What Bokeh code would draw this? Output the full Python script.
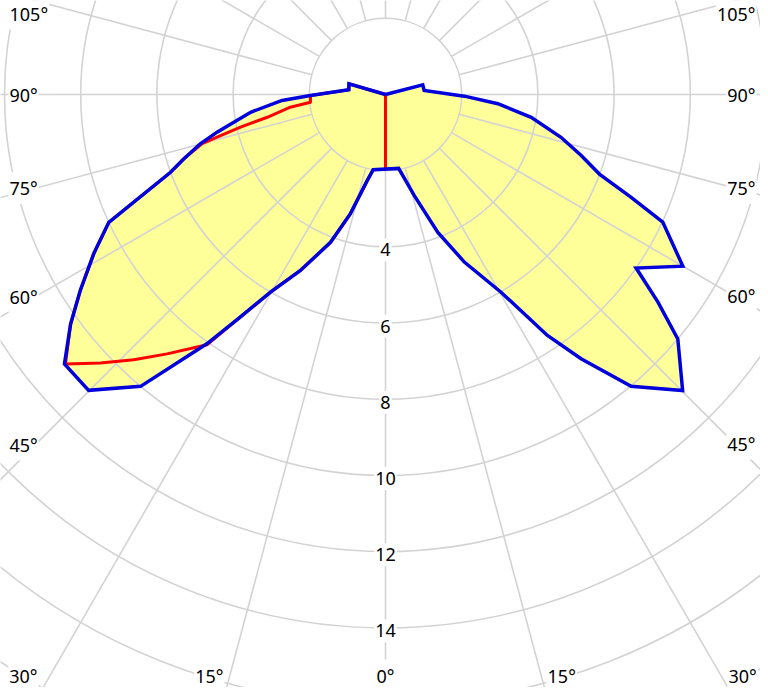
import numpy as np
from bokeh.plotting import figure
from bokeh.models import Range1d
from bokeh.embed import file_html
from bokeh.resources import INLINE
from bokeh.core.properties import value

# ---------------- data (angle from nadir in degrees, signed: + right, - left; intensity) ----------------
blue_angle = [180, 104.6, 95.9, 88.8, 85.3, 81.1, 76.3, 72.7, 69.6, 67.3, 65.3, 60.0, 55.3, 52.7,
              50.1, 45.1, 40.1, 36.5, 33.9, 30.3, 25.2, 20.8, 15.9, 10.1,
              -9.3, -12.0, -16.4, -20.4, -25.8, -30.2, -33.1, -35.6, -40.0, -45.1, -50.0,
              -53.9, -57.3, -61.4, -65.2, -70.1, -72.3, -75.1, -77.4, -82.5, -86.7, -89.2,
              -97.3, -106.3, -180]
blue_r = [0, 1.01, 1.02, 2.07, 2.96, 3.87, 4.74, 5.38, 5.99, 6.98, 8.01, 9.01, 8.00, 8.99,
          10.0, 11.01, 10.01, 8.63, 7.62, 6.01, 4.86, 3.87, 2.76, 1.97,
          2.0, 2.31, 3.26, 4.14, 5.13, 6.0, 6.97, 8.04, 10.0, 11.0, 11.0,
          10.23, 9.52, 8.72, 8.0, 6.0, 5.56, 5.03, 4.53, 3.57, 2.72, 1.97,
          0.97, 1.0, 0]

red_angle = [0, -9.3, -12.0, -16.4, -20.4, -25.8, -30.2, -33.1, -35.5, -40.1, -43.5, -46.7, -49.9,
             -53.9, -57.3, -61.4, -65.2, -70.1, -72.3, -75.0, -75.8, -77.3, -79.1, -82.4, -84.1,
             -89.2, -97.3, -106.3, -180]
red_r = [1.96, 2.0, 2.31, 3.26, 4.14, 5.13, 6.0, 6.97, 8.07, 8.9, 9.6, 10.28, 10.98,
         10.23, 9.52, 8.72, 8.0, 6.0, 5.56, 4.98, 4.56, 3.90, 3.16, 2.52, 1.98,
         1.97, 0.97, 1.0, 0]

ring_values = [2, 4, 6, 8, 10, 12, 14, 16, 18, 20]
ring_label_values = [4, 6, 8, 10, 12, 14]
spoke_angles = list(range(0, 360, 15))
side_tick_angles = [45, 60, 75, 90, 105]
bottom_tick_angles = [15, 30]

# ---------------- layout ----------------
S = 38.1              # pixels per intensity unit
CX, CY = 385.0, 94.0  # pole position in picture pixels
W, H = 760, 687
FONT = "Noto Sans"
GRID = "#d3d3d3"
LABEL_W = 27


def pol(a, r):
    a = np.radians(np.asarray(a, dtype=float))
    r = np.asarray(r, dtype=float)
    return r * np.sin(a), -r * np.cos(a)


def to_data(px, py):
    return (px - CX) / S, (CY - py) / S


p = figure(width=W, height=H,
           x_range=Range1d(-CX / S, (W - CX) / S),
           y_range=Range1d((CY - H) / S, CY / S),
           output_backend="svg", toolbar_location=None, min_border=0,
           x_axis_location=None, y_axis_location=None)
p.outline_line_color = None
p.background_fill_color = "white"
p.border_fill_color = "white"
for g in p.grid:
    g.visible = False

bx, by = pol(blue_angle, blue_r)
rx, ry = pol(red_angle, red_r)

# fill
p.patch(list(bx), list(by), fill_color="#ffff99", line_color=None)

# grid
p.circle(x=[0] * len(ring_values), y=[0] * len(ring_values), radius=ring_values,
         fill_color=None, line_color=GRID, line_width=1.6)
sx0, sy0 = pol(spoke_angles, [2] * len(spoke_angles))
sx1, sy1 = pol(spoke_angles, [30] * len(spoke_angles))
p.segment(x0=list(sx0), y0=list(sy0), x1=list(sx1), y1=list(sy1), line_color=GRID, line_width=1.6)

# curves
p.line(list(rx) + [rx[0]], list(ry) + [ry[0]], line_color="#ff0000", line_width=3,
       line_join="round")
p.line(list(bx), list(by), line_color="#0000dd", line_width=3.5, line_join="miter")

# radial labels
p.text(x=[0] * len(ring_label_values), y=[-v for v in ring_label_values],
       text=[str(v) for v in ring_label_values], text_align="center", text_baseline="middle",
       y_offset=3, text_font=value(FONT), text_font_size="18px", text_color="black",
       background_fill_color="white", padding=(1, 5))

# angle labels (placed where each spoke leaves the drawing area)
LEFT, RIGHT, TOP, BOTTOM = 8, 756, 13, 675
lx, ly, lt, la = [], [], [], []
for a in side_tick_angles:
    t = np.radians(a)
    yl = max(CY + (CX - LEFT - LABEL_W) * np.cos(t) / np.sin(t), TOP)
    X, Y = to_data(LEFT, yl)
    lx.append(X); ly.append(Y); lt.append(f"{a}°"); la.append("left")
    yr = max(CY + (761 - LABEL_W - CX) * np.cos(t) / np.sin(t), TOP)
    X, Y = to_data(RIGHT, yr)
    lx.append(X); ly.append(Y); lt.append(f"{a}°"); la.append("right")
for a in bottom_tick_angles:
    t = np.radians(a)
    X, Y = to_data(max(CX - (695 - CY) * np.tan(t), LEFT + LABEL_W), BOTTOM)
    lx.append(X); ly.append(Y); lt.append(f"{a}°"); la.append("right")
    X, Y = to_data(min(CX + (695 - CY) * np.tan(t), RIGHT - LABEL_W - 2), BOTTOM)
    lx.append(X); ly.append(Y); lt.append(f"{a}°"); la.append("left")
X, Y = to_data(CX, BOTTOM)
lx.append(X); ly.append(Y); lt.append("0°"); la.append("center")

p.text(x=lx, y=ly, text=lt, text_align=la, text_baseline="middle",
       text_font=value(FONT), text_font_size="18px", text_color="black",
       background_fill_color="white", padding=(1, 4))

open("out.html", "w").write(file_html(p, INLINE))
